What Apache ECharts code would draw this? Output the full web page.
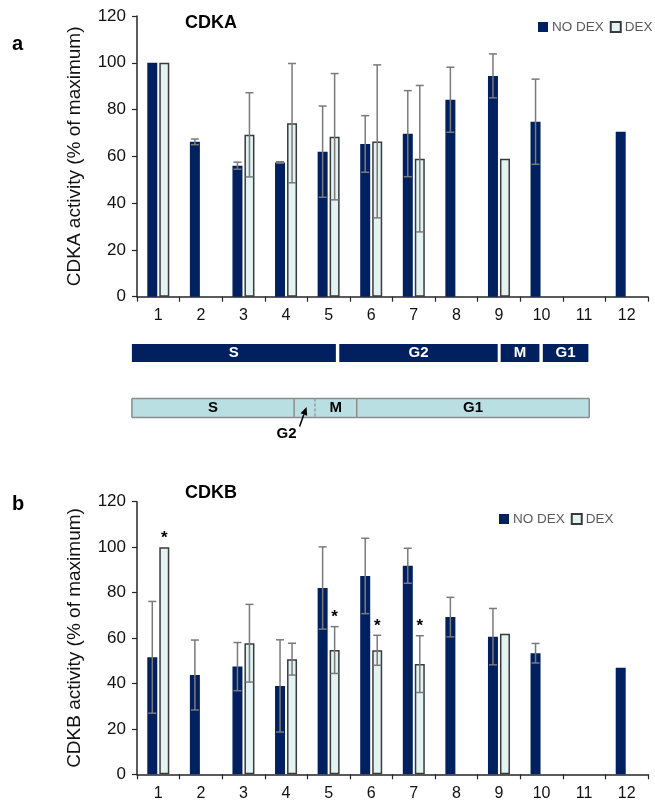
<!DOCTYPE html>
<html>
<head>
<meta charset="utf-8">
<script src="https://cdn.jsdelivr.net/npm/echarts@6/dist/echarts.min.js"></script>
<style>
  html, body { margin: 0; padding: 0; background: #fff; }
  #main { width: 655px; height: 803px; }
</style>
</head>
<body>
<div id="main"></div>
<script>
// samples along the time course
const samples = ['1', '2', '3', '4', '5', '6', '7', '8', '9', '10', '11', '12'];

// CDKA activity (% of maximum), mean and SD
const cdkaNoDex = [100, 66.2, 56.0, 57.4, 62.0, 65.3, 69.7, 84.2, 94.4, 74.8, null, 70.5];
const cdkaNoDexSd = [0, 1.2, 1.5, 0.3, 19.5, 12.1, 18.4, 13.9, 9.4, 18.2, null, 0];
const cdkaDex = [100, null, 69.2, 74.2, 68.4, 66.4, 59.0, null, 59.0, null, null, null];
const cdkaDexSd = [0, null, 18.0, 25.5, 27.0, 32.7, 31.3, null, 0, null, null, null];

// CDKB activity (% of maximum), mean and SD
const cdkbNoDex = [51.5, 43.7, 47.4, 38.9, 82.0, 87.3, 91.8, 69.2, 60.6, 53.3, null, 46.9];
const cdkbNoDexSd = [24.6, 15.4, 10.6, 20.3, 18.1, 16.6, 7.7, 8.7, 12.4, 4.3, null, 0];
const cdkbDex = [100, null, 57.7, 50.7, 54.7, 54.6, 48.5, null, 61.9, null, null, null];
const cdkbDexSd = [0, null, 17.1, 7.0, 10.3, 6.6, 12.5, null, 0, null, null, null];
const cdkbDexSignif = [1, 0, 0, 0, 1, 1, 1, 0, 0, 0, 0, 0];

// cell-cycle phases, in sample units along the x axis
const phaseNoDex = [['S', -0.12, 4.67], ['G2', 4.75, 8.47], ['M', 8.54, 9.45], ['G1', 9.53, 10.6]];
const phaseDex = [['S', -0.12, 3.69], ['G2', 3.69, 4.18], ['M', 4.18, 5.16], ['G1', 5.16, 10.62]];

const navy = '#002060';
const pale = '#e3f3f3';
const font = 'Liberation Sans, Arial, sans-serif';
const barW = 10;
const barOff = 6;

const chart = echarts.init(document.getElementById('main'));

function errorBars(offset, signif) {
  return function (params, api) {
    const i = api.value(0);
    const m = api.value(1);
    const sd = api.value(2);
    const top = api.coord([i, m + sd]);
    const bot = api.coord([i, m - sd]);
    const x = top[0] + offset;
    const ch = [];
    const st = { stroke: '#7a7a7a', lineWidth: 1.5 };
    if (sd > 0) {
      ch.push({ type: 'line', shape: { x1: x, y1: top[1], x2: x, y2: bot[1] }, style: st });
      ch.push({ type: 'line', shape: { x1: x - 4, y1: top[1], x2: x + 4, y2: top[1] }, style: st });
      ch.push({ type: 'line', shape: { x1: x - 4, y1: bot[1], x2: x + 4, y2: bot[1] }, style: st });
    }
    if (signif && signif[i]) {
      ch.push({
        type: 'text',
        style: { text: '*', x: x, y: top[1] - 9, align: 'center', verticalAlign: 'middle',
          font: 'bold 17px ' + font, fill: '#000' }
      });
    }
    return { type: 'group', children: ch };
  };
}

function errData(mean, sd) {
  return samples.map((s, i) => [i, mean[i], sd[i]]).filter(d => d[1] != null);
}

function phaseRender(phases, dark) {
  return function (params, api) {
    const p = phases[params.dataIndex];
    const a = api.coord([p[1], api.value(2)]);
    const b = api.coord([p[2], api.value(2)]);
    const h = dark ? 18 : 19;
    const y0 = a[1] - h / 2;
    const ch = [];
    ch.push({ type: 'rect', shape: { x: a[0], y: y0, width: b[0] - a[0], height: h },
      style: { fill: dark ? navy : '#b9dfe3' } });
    if (!dark) {
      const ln = { stroke: '#8c8c8c', lineWidth: 1.5 };
      ch.push({ type: 'line', shape: { x1: a[0], y1: y0, x2: b[0], y2: y0 }, style: ln });
      ch.push({ type: 'line', shape: { x1: a[0], y1: y0 + h, x2: b[0], y2: y0 + h }, style: ln });
      ch.push({ type: 'line', shape: { x1: a[0], y1: y0, x2: a[0], y2: y0 + h },
        style: Object.assign({}, ln, p[0] === 'M' ? { lineDash: [3, 2], stroke: '#9a9a9a' } : {}) });
      if (params.dataIndex === phases.length - 1) {
        ch.push({ type: 'line', shape: { x1: b[0], y1: y0, x2: b[0], y2: y0 + h }, style: ln });
      }
    }
    const cx = (a[0] + b[0]) / 2;
    if (!dark && b[0] - a[0] < 25) {
      // short phase: label below with arrow
      const tx = cx + 2, ty = a[1] - 1;
      const sx = cx - 5, sy = y0 + h + 9;
      const dx = tx - sx, dy = ty - sy, len = Math.sqrt(dx * dx + dy * dy);
      const ux = dx / len, uy = dy / len;
      const bx = tx - ux * 8, by = ty - uy * 8;
      ch.push({ type: 'line', shape: { x1: sx, y1: sy, x2: bx, y2: by }, style: { stroke: '#000', lineWidth: 1.5 } });
      ch.push({ type: 'polygon', shape: { points: [[tx, ty], [bx - uy * 3.5, by + ux * 3.5], [bx + uy * 3.5, by - ux * 3.5]] },
        style: { fill: '#000' } });
      ch.push({ type: 'text', style: { text: p[0], x: cx - 18, y: y0 + h + 16, align: 'center',
        verticalAlign: 'middle', font: 'bold 15px ' + font, fill: '#000' } });
    } else {
      ch.push({ type: 'text', style: { text: p[0], x: cx, y: a[1], align: 'center',
        verticalAlign: 'middle', font: 'bold 15px ' + font, fill: dark ? '#fff' : '#000' } });
    }
    return { type: 'group', children: ch };
  };
}

function catAxis(idx) {
  return {
    type: 'category', gridIndex: idx, data: samples,
    axisLine: { lineStyle: { color: '#262626', width: 1.5 } },
    axisTick: { show: true, length: 5, lineStyle: { color: '#262626', width: 1.2 } },
    axisLabel: { color: '#111', fontSize: 16, fontFamily: font, margin: 11 }
  };
}

function valAxis(idx, name) {
  return {
    type: 'value', gridIndex: idx, min: 0, max: 120, interval: 20,
    name: name, nameLocation: 'middle', nameGap: 53,
    nameTextStyle: { fontSize: 19, fontFamily: font, color: '#111' },
    splitLine: { show: false },
    axisLine: { show: true, lineStyle: { color: '#262626', width: 1.5 } },
    axisTick: { show: true, length: 5, lineStyle: { color: '#262626', width: 1.2 } },
    axisLabel: { color: '#111', fontSize: 17, fontFamily: font, margin: 11 }
  };
}

function bars(idx, name, data) {
  const dex = name === 'DEX';
  return {
    type: 'bar', name: name, xAxisIndex: idx, yAxisIndex: idx, data: data,
    barWidth: barW, barGap: '20%',
    itemStyle: dex ? { color: pale, borderColor: '#3a3a3a', borderWidth: 1.5 } : { color: navy },
    animation: false
  };
}

const legendBase = {
  padding: 0, itemWidth: 10, itemHeight: 10, itemGap: 6, icon: 'rect', width: 300,
  textStyle: { color: '#595959', fontSize: 13.5, fontFamily: font, padding: [0, 0, 0, -1] },
  data: ['NO DEX', 'DEX']
};

const titleStyle = (size) => ({ fontSize: size, fontWeight: 'bold', fontFamily: font, color: '#000' });

chart.setOption({
  animation: false,
  title: [
    { text: 'a', left: 12, top: 34, padding: 0, textStyle: titleStyle(20) },
    { text: 'CDKA', left: 185, top: 14, padding: 0, textStyle: titleStyle(18) },
    { text: 'b', left: 12, top: 494, padding: 0, textStyle: titleStyle(20) },
    { text: 'CDKB', left: 185, top: 484, padding: 0, textStyle: titleStyle(18) }
  ],
  legend: [
    Object.assign({ left: 538, top: 20 }, legendBase),
    Object.assign({ left: 499, top: 512 }, legendBase)
  ],
  grid: [
    { left: 137, right: 7, top: 16, height: 280.7 },
    { left: 137, right: 7, top: 501.7, height: 272.6 },
    { left: 137, right: 7, top: 325.5, height: 110 }
  ],
  xAxis: [
    catAxis(0), catAxis(1),
    { type: 'value', gridIndex: 2, min: 0, max: 12, show: false }
  ],
  yAxis: [
    valAxis(0, 'CDKA activity (% of maximum)'),
    valAxis(1, 'CDKB activity (% of maximum)'),
    { type: 'category', gridIndex: 2, data: ['NO DEX', 'DEX'], inverse: true, show: false }
  ],
  series: [
    bars(0, 'NO DEX', cdkaNoDex),
    bars(0, 'DEX', cdkaDex),
    bars(1, 'NO DEX', cdkbNoDex),
    bars(1, 'DEX', cdkbDex),
    { type: 'custom', xAxisIndex: 0, yAxisIndex: 0, z: 5, renderItem: errorBars(-barOff),
      data: errData(cdkaNoDex, cdkaNoDexSd) },
    { type: 'custom', xAxisIndex: 0, yAxisIndex: 0, z: 5, renderItem: errorBars(barOff),
      data: errData(cdkaDex, cdkaDexSd) },
    { type: 'custom', xAxisIndex: 1, yAxisIndex: 1, z: 5, renderItem: errorBars(-barOff),
      data: errData(cdkbNoDex, cdkbNoDexSd) },
    { type: 'custom', xAxisIndex: 1, yAxisIndex: 1, z: 5, renderItem: errorBars(barOff, cdkbDexSignif),
      data: errData(cdkbDex, cdkbDexSd) },
    { type: 'custom', xAxisIndex: 2, yAxisIndex: 2, renderItem: phaseRender(phaseNoDex, true),
      data: phaseNoDex.map(p => [p[1], p[2], 0]) },
    { type: 'custom', xAxisIndex: 2, yAxisIndex: 2, renderItem: phaseRender(phaseDex, false),
      data: phaseDex.map(p => [p[1], p[2], 1]) }
  ]
});
</script>
</body>
</html>
